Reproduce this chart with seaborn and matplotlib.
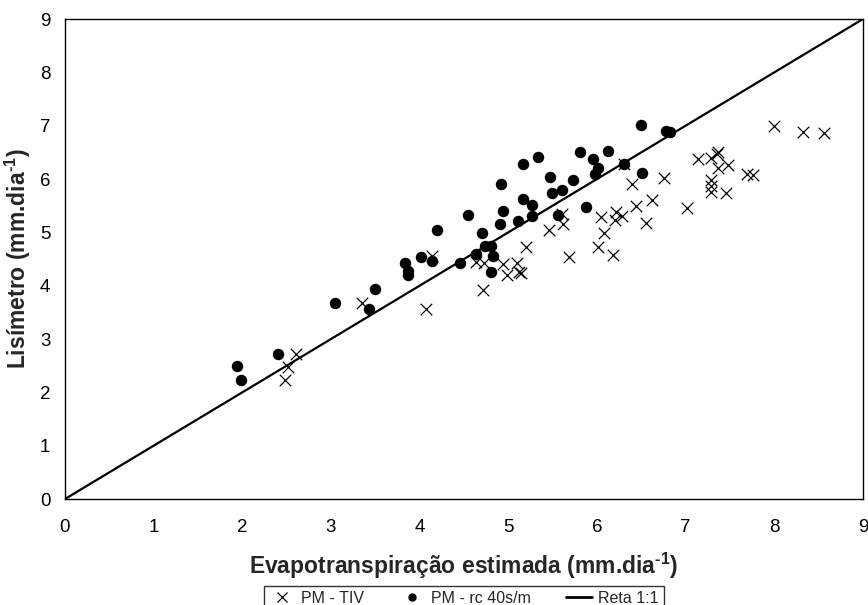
import matplotlib
matplotlib.use("Agg")
import matplotlib.pyplot as plt
import seaborn as sns
import pandas as pd
from matplotlib.lines import Line2D

# ---- data ----
rc40_x = [1.94, 1.98, 2.40, 3.05, 3.43, 3.50, 3.83, 3.87, 3.87, 4.02,
          4.14, 4.20, 4.46, 4.55, 4.64, 4.70, 4.74, 4.80, 4.83, 4.80,
          4.91, 4.94, 4.92, 5.11, 5.16, 5.16, 5.27, 5.27, 5.34, 5.47,
          5.49, 5.60, 5.56, 5.73, 5.81, 5.88, 5.95, 6.01, 5.98, 6.12,
          6.30, 6.51, 6.50, 6.78, 6.82]
rc40_y = [2.50, 2.23, 2.72, 3.68, 3.56, 3.93, 4.43, 4.28, 4.20, 4.54,
          4.46, 5.05, 4.42, 5.33, 4.59, 4.99, 4.74, 4.74, 4.56, 4.26,
          5.16, 5.40, 5.91, 5.22, 5.62, 6.29, 5.52, 5.31, 6.42, 6.03,
          5.74, 5.79, 5.33, 5.99, 6.51, 5.47, 6.38, 6.21, 6.09, 6.52,
          6.28, 6.11, 7.01, 6.90, 6.88]

tiv_x = [2.61, 2.51, 2.48, 3.35, 4.07, 4.14, 4.64, 4.71, 4.73, 4.94,
         5.10, 4.99, 5.12, 5.14, 5.20, 5.46, 5.62, 5.60, 5.68, 6.01,
         6.04, 6.08, 6.18, 6.20, 6.21, 6.28, 6.30, 6.40, 6.44, 6.55,
         6.62, 6.76, 7.02, 7.14, 7.29, 7.36, 7.35, 7.48, 7.37, 7.29,
         7.29, 7.29, 7.45, 7.69, 7.76, 8.00, 8.32, 8.56]
tiv_y = [2.72, 2.48, 2.23, 3.67, 3.56, 4.56, 4.45, 3.92, 4.42, 4.41,
         4.42, 4.20, 4.26, 4.23, 4.72, 5.04, 5.16, 5.34, 4.54, 4.73,
         5.29, 4.98, 4.57, 5.23, 5.39, 5.31, 6.28, 5.90, 5.50, 5.18,
         5.60, 6.01, 5.46, 6.37, 6.40, 6.51, 6.47, 6.26, 6.20, 5.99,
         5.87, 5.76, 5.73, 6.09, 6.08, 6.99, 6.89, 6.87]

line_x = [0, 9]
line_y = [0, 9]

ticks = list(range(0, 10))
labels = ["PM - TIV", "PM - rc 40s/m", "Reta 1:1"]
xlabel = "Evapotranspiração estimada (mm.dia$^{\\mathbf{\u2010}\\mathbf{1}}$)"
ylabel = "Lisímetro (mm.dia$^{\\mathbf{\u2010}\\mathbf{1}}$)"

# ---- style ----
sns.set_style("white")
plt.rcParams["font.family"] = ["Liberation Sans", "DejaVu Sans"]
plt.rcParams["mathtext.fontset"] = "custom"
plt.rcParams["mathtext.rm"] = "Liberation Sans"
plt.rcParams["mathtext.bf"] = "Liberation Sans:bold"

fig = plt.figure(figsize=(8.68, 6.05), dpi=100)
ax = fig.add_axes([65 / 868, 1 - 499 / 605, 798 / 868, 480 / 605])

df_line = pd.DataFrame({"x": line_x, "y": line_y})
df_rc = pd.DataFrame({"x": rc40_x, "y": rc40_y})
df_tiv = pd.DataFrame({"x": tiv_x, "y": tiv_y})

sns.lineplot(data=df_line, x="x", y="y", color="black", linewidth=1.6, ax=ax, zorder=2)
sns.scatterplot(data=df_rc, x="x", y="y", marker="o", color="black", s=68,
                edgecolor="black", linewidth=0, ax=ax, zorder=3)
sns.scatterplot(data=df_tiv, x="x", y="y", marker="x", color="black", s=68,
                linewidth=0.9, ax=ax, zorder=4)

ax.set_xlim(0, 9)
ax.set_ylim(0, 9)
ax.set_xticks(ticks)
ax.set_yticks(ticks)
ax.tick_params(axis="both", direction="out", length=4.5, width=1, color="black",
               labelsize=13.5, labelcolor="black")
ax.tick_params(axis="x", pad=10)
ax.tick_params(axis="y", pad=6)
for sp in ax.spines.values():
    sp.set_color("black")
    sp.set_linewidth(1.0)
    sp.set_visible(True)

ax.set_xlabel(xlabel, fontsize=16.5, fontweight="bold")
ax.set_ylabel(ylabel, fontsize=16.5, fontweight="bold")
ax.xaxis.set_label_coords(0.5, -0.108)
ax.yaxis.set_label_coords(-0.040, 0.5)

handles = [
    Line2D([], [], marker="x", color="black", linestyle="none", markersize=7, markeredgewidth=0.9),
    Line2D([], [], marker="o", color="black", linestyle="none", markersize=5),
    Line2D([], [], color="black", linewidth=2),
]
leg = fig.legend(handles, labels, ncol=3, loc="upper center",
                 bbox_to_anchor=(464 / 868, 1 - 578 / 605), frameon=True,
                 fancybox=False, fontsize=11.5, handlelength=1.6, handletextpad=0.4,
                 columnspacing=2.2, borderpad=0.3, edgecolor="black")
leg.get_frame().set_linewidth(1.0)

fig.savefig("out.png", dpi=100, facecolor="white")
